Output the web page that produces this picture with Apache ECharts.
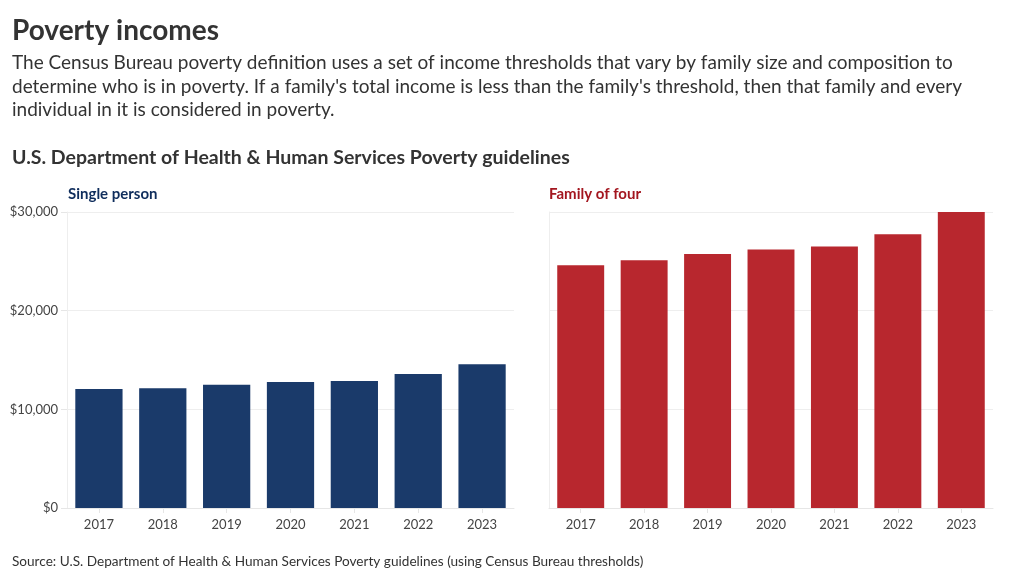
<!DOCTYPE html>
<html><head><meta charset="utf-8">
<script src="https://cdn.jsdelivr.net/npm/echarts@6/dist/echarts.min.js"></script>
<style>html,body{margin:0;padding:0;background:#fff}#c{width:1020px;height:579px}</style>
</head><body><div id="c"></div>
<script>
const years = ['2017','2018','2019','2020','2021','2022','2023'];
const singlePerson = [12060, 12140, 12490, 12760, 12880, 13590, 14580];
const familyOfFour = [24600, 25100, 25750, 26200, 26500, 27750, 30000];
const yTicks = [0, 10000, 20000, 30000];

const FONT = 'Lato';
const chart = echarts.init(document.getElementById('c'));
const fmt = v => '$' + v.toLocaleString('en-US');
function xAx(i){return {type:'category',gridIndex:i,data:years,
  axisLine:{lineStyle:{color:'#e6e6e6'}},axisTick:{show:true,alignWithLabel:true,length:5,lineStyle:{color:'#e6e6e6'}},
  axisLabel:{color:'#444',fontFamily:FONT,fontSize:13,margin:10}};}
function yAx(i,show){return {type:'value',gridIndex:i,min:0,max:30000,interval:10000,
  axisLine:{show:true,lineStyle:{color:'#eeeeee'}},axisTick:{show:show,length:6,lineStyle:{color:'#e6e6e6'}},
  splitLine:{lineStyle:{color:'#eeeeee'}},
  axisLabel:{show:show,color:'#444',fontFamily:FONT,fontSize:13,formatter:fmt,margin:9}};}
chart.setOption({
  animation:false,
  textStyle:{fontFamily:FONT},
  title:[
    {text:'Poverty incomes',left:12,top:17,padding:0,textStyle:{fontFamily:FONT,fontSize:28,fontWeight:'bold',color:'#333'}},
    {text:"The Census Bureau poverty definition uses a set of income thresholds that vary by family size and composition to\ndetermine who is in poverty. If a family's total income is less than the family's threshold, then that family and every\nindividual in it is considered in poverty.",
     left:12,top:51,padding:0,textStyle:{fontFamily:FONT,fontSize:19,fontWeight:'normal',color:'#333',lineHeight:23.7}},
    {text:'U.S. Department of Health & Human Services Poverty guidelines',left:12,top:148,padding:0,textStyle:{fontFamily:FONT,fontSize:19.5,fontWeight:'bold',color:'#333'}},
    {text:'Single person',left:68,top:187,padding:0,textStyle:{fontFamily:FONT,fontSize:15,fontWeight:'bold',color:'#0f2d5c'}},
    {text:'Family of four',left:549,top:187,padding:0,textStyle:{fontFamily:FONT,fontSize:15,fontWeight:'bold',color:'#a3161f'}},
    {text:'Source: U.S. Department of Health & Human Services Poverty guidelines (using Census Bureau thresholds)',left:12,top:555,padding:0,textStyle:{fontFamily:FONT,fontSize:13.6,fontWeight:'normal',color:'#333'}}
  ],
  grid:[
    {left:67,top:212,width:447,height:296},
    {left:549,top:212,width:444,height:296}
  ],
  xAxis:[xAx(0),xAx(1)],
  yAxis:[yAx(0,true),yAx(1,false)],
  series:[
    {type:'bar',xAxisIndex:0,yAxisIndex:0,data:singlePerson,barWidth:'74%',itemStyle:{color:'#1a3a6a'}},
    {type:'bar',xAxisIndex:1,yAxisIndex:1,data:familyOfFour,barWidth:'74%',itemStyle:{color:'#b8272e'}}
  ]
});
</script></body></html>
